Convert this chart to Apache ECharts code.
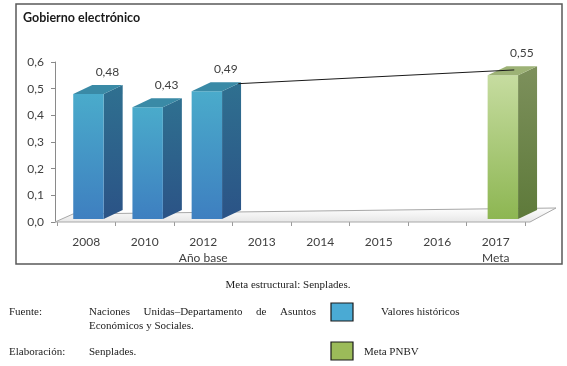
<!DOCTYPE html>
<html>
<head>
<meta charset="utf-8">
<script src="https://cdn.jsdelivr.net/npm/echarts@6/dist/echarts.min.js"></script>
<style>
html,body{margin:0;padding:0;background:#fff;}
#chart{width:567px;height:366px;}
</style>
</head>
<body>
<div id="chart"></div>
<script>
// ---- data ----
var categories = ['2008', '2010', '2012', '2013', '2014', '2015', '2016', '2017'];
var xLabels = ['2008', '2010', '2012\nAño base', '2013', '2014', '2015', '2016', '2017\nMeta'];
var historicValues = [0.48, 0.43, 0.49, null, null, null, null, null];
var goalValues = [null, null, null, null, null, null, null, 0.55];
var trendFrom = ['2012', 0.49];
var trendTo = ['2017', 0.55];
var yTicks = [0, 0.1, 0.2, 0.3, 0.4, 0.5, 0.6];

var chart = echarts.init(document.getElementById('chart'), null, {renderer: 'canvas'});
var FONT = 'Lato';
var SERIF = 'Liberation Serif';
var SERIF_FONT = '11px ' + SERIF;

var DX = 19, DY = -9;
function fmt(v) { return v.toFixed(2).replace('.', ','); }
function shiftFor(cat) { return 2.2 + 0.7 * cat; }

function barGeom(api, cat, v) {
  var p = api.coord([cat, v]);
  var p0 = api.coord([cat, 0]);
  var cw = api.size([1, 0])[0];
  var w = cw * 0.52;
  var cx = p[0] + shiftFor(cat);
  return {cx: cx, xl: cx - w / 2, xr: cx + w / 2, yt: p[1], yb: p0[1] - 3, w: w};
}

function makeBarRenderer(pal) {
  return function (params, api) {
    var cat = api.value(0), v = api.value(1);
    if (v == null || isNaN(v)) return;
    var g = barGeom(api, cat, v);
    var grad = function (c1, c2) {
      return new echarts.graphic.LinearGradient(0, 0, 0, 1, [{offset: 0, color: c1}, {offset: 1, color: c2}]);
    };
    return {
      type: 'group',
      children: [
        {type: 'polygon', shape: {points: [[g.xr, g.yb], [g.xr + DX, g.yb + DY], [g.xr + DX, g.yt + DY], [g.xr, g.yt]]},
          style: {fill: grad(pal.side1, pal.side2)}},
        {type: 'rect', shape: {x: g.xl, y: g.yt, width: g.w, height: g.yb - g.yt},
          style: {fill: grad(pal.front1, pal.front2)}},
        {type: 'polygon', shape: {points: [[g.xl, g.yt], [g.xr, g.yt], [g.xr + DX, g.yt + DY], [g.xl + DX, g.yt + DY]]},
          style: {fill: pal.top}},
        {type: 'text', x: g.cx + DX, y: g.yt - 22,
          style: {text: fmt(v), fill: '#404040', font: '12px ' + FONT, align: 'center', verticalAlign: 'middle'}}
      ]
    };
  };
}

var bluePal = {front1: '#4aabcb', front2: '#3e7fc0', side1: '#2f7090', side2: '#2b5386', top: '#3a8aa6'};
var greenPal = {front1: '#c6dca0', front2: '#8db652', side1: '#7d905c', side2: '#5e7a3a', top: '#9db276'};

function toSeriesData(vals) {
  return vals.map(function (v, i) { return [i, v]; });
}

// justified line of words between x0 and x1
function justified(text, x0, x1, y) {
  var cv = document.createElement('canvas').getContext('2d');
  cv.font = SERIF_FONT;
  var words = text.split(' ');
  var widths = words.map(function (w) { return cv.measureText(w).width; });
  var total = widths.reduce(function (a, b) { return a + b; }, 0);
  var gap = (x1 - x0 - total) / (words.length - 1);
  var out = [], x = x0;
  words.forEach(function (w, i) {
    out.push({type: 'text', x: x, y: y, style: {text: w, font: SERIF_FONT, fill: '#222', verticalAlign: 'middle'}});
    x += widths[i] + gap;
  });
  return out;
}

var graphics = [
  {type: 'rect', shape: {x: 16, y: 4, width: 546, height: 260}, style: {fill: null, stroke: '#5a5a5a', lineWidth: 1.5}, z: 0},
  {type: 'text', x: 288, y: 285, style: {text: 'Meta estructural: Senplades.', font: SERIF_FONT, fill: '#222', align: 'center', verticalAlign: 'middle'}},
  {type: 'text', x: 9, y: 312, style: {text: 'Fuente:', font: SERIF_FONT, fill: '#222', verticalAlign: 'middle'}},
  {type: 'text', x: 89, y: 326, style: {text: 'Económicos y Sociales.', font: SERIF_FONT, fill: '#222', verticalAlign: 'middle'}},
  {type: 'rect', shape: {x: 331, y: 303, width: 22, height: 18}, style: {fill: '#4aaad4', stroke: '#1a1a1a', lineWidth: 1.2}},
  {type: 'text', x: 381, y: 312, style: {text: 'Valores históricos', font: SERIF_FONT, fill: '#222', verticalAlign: 'middle'}},
  {type: 'text', x: 9, y: 352, style: {text: 'Elaboración:', font: SERIF_FONT, fill: '#222', verticalAlign: 'middle'}},
  {type: 'text', x: 89, y: 352, style: {text: 'Senplades.', font: SERIF_FONT, fill: '#222', verticalAlign: 'middle'}},
  {type: 'rect', shape: {x: 331, y: 342, width: 22, height: 18}, style: {fill: '#9bbb59', stroke: '#1a1a1a', lineWidth: 1.2}},
  {type: 'text', x: 364, y: 352, style: {text: 'Meta PNBV', font: SERIF_FONT, fill: '#222', verticalAlign: 'middle'}}
].concat(justified('Naciones Unidas–Departamento de Asuntos', 89, 316, 312));

var option = {
  animation: false,
  backgroundColor: '#ffffff',
  title: {
    text: 'Gobierno electrónico', left: 18, top: 6,
    textStyle: {fontFamily: FONT, fontSize: 12.5, fontWeight: 'bold', color: '#1a1a1a'}
  },
  grid: {left: 57, right: 42, top: 62, bottom: 144},
  xAxis: {
    type: 'category', data: categories,
    axisLine: {show: false},
    axisTick: {show: true, length: 4, interval: 0, lineStyle: {color: '#9a9a9a'}},
    axisLabel: {
      interval: 0, margin: 12, color: '#404040', fontFamily: FONT, fontSize: 12, lineHeight: 16,
      formatter: function (val, idx) { return xLabels[idx]; }
    }
  },
  yAxis: {
    type: 'value', min: yTicks[0], max: yTicks[yTicks.length - 1], interval: 0.1, offset: 2,
    axisLine: {show: true, lineStyle: {color: '#8a8a8a'}},
    axisTick: {show: true, length: 4, lineStyle: {color: '#8a8a8a'}},
    splitLine: {show: false},
    axisLabel: {margin: 11, color: '#404040', fontFamily: FONT, fontSize: 12,
      formatter: function (v) { return v.toFixed(1).replace('.', ','); }}
  },
  graphic: graphics,
  series: [
    {
      name: 'floor', type: 'custom', z: 1, silent: true,
      data: [[0, 0]],
      renderItem: function (params, api) {
        var n = categories.length;
        var cw = api.size([1, 0])[0];
        var a = api.coord([0, 0]);
        var b = api.coord([n - 1, 0]);
        var x0 = a[0] - cw / 2 - 2, x1 = b[0] + cw / 2 + 5, y = a[1];
        return {
          type: 'polygon',
          shape: {points: [[x0, y], [x1, y], [x1 + 26, y - 14], [x0 + 18, y - 8]]},
          style: {fill: new echarts.graphic.LinearGradient(0, 0, 0, 1, [{offset: 0, color: '#ffffff'}, {offset: 1, color: '#e6e6e6'}]), stroke: '#a8a8a8', lineWidth: 1}
        };
      }
    },
    {name: 'Valores históricos', type: 'custom', z: 3, data: toSeriesData(historicValues), renderItem: makeBarRenderer(bluePal)},
    {name: 'Meta PNBV', type: 'custom', z: 3, data: toSeriesData(goalValues), renderItem: makeBarRenderer(greenPal)},
    {
      name: 'trend', type: 'custom', z: 4, silent: true,
      data: [[categories.indexOf(trendFrom[0]), trendFrom[1], categories.indexOf(trendTo[0]), trendTo[1]]],
      renderItem: function (params, api) {
        var g1 = barGeom(api, api.value(0), api.value(1));
        var g2 = barGeom(api, api.value(2), api.value(3));
        return {
          type: 'line',
          shape: {x1: g1.xr + DX * 0.85, y1: g1.yt + DY * 0.85, x2: g2.cx + DX * 0.6, y2: g2.yt + DY * 0.6},
          style: {stroke: '#1a1a1a', lineWidth: 1}
        };
      }
    }
  ]
};
chart.setOption(option);
</script>
</body>
</html>
